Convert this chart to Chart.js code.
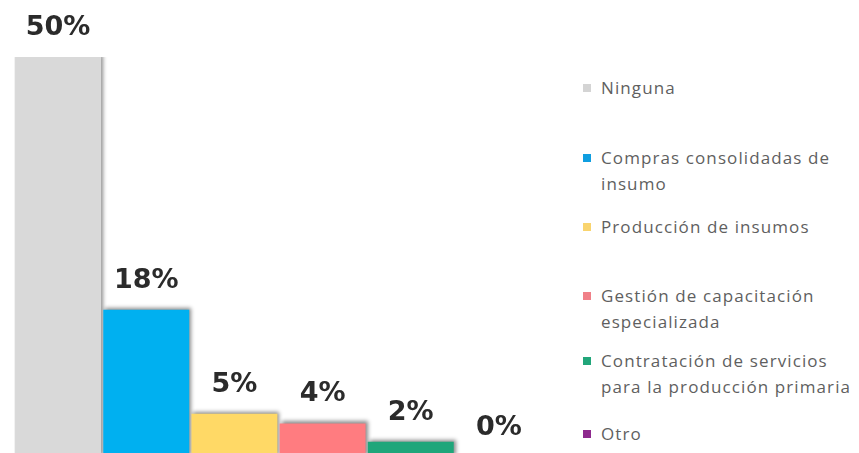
<!DOCTYPE html>
<html>
<head>
<meta charset="utf-8">
<script src="https://cdn.jsdelivr.net/npm/chart.js@4.4.1/dist/chart.umd.min.js"></script>
<style>
  html, body { margin: 0; padding: 0; background: #fff; }
  body { width: 859px; height: 453px; overflow: hidden; position: relative; }
  #chartBox { position: absolute; left: 0; top: 0; width: 560px; height: 457px; }
  #legend { position: absolute; left: 0; top: 0; }
  .item { position: absolute; left: 583px; font-family: "Open Sans", sans-serif; font-size: 17px;
          letter-spacing: 1.1px; line-height: 26px; color: #5f5f5f; white-space: nowrap; }
  .sw { position: absolute; left: 0; top: 9px; width: 8px; height: 8px; }
  .txt { margin-left: 18px; }
</style>
</head>
<body>
<div id="chartBox"><canvas id="barChart" width="560" height="457"></canvas></div>
<div id="legend"></div>
<script>
const categories = [
  ["Ninguna"],
  ["Compras consolidadas de", "insumo"],
  ["Producción de insumos"],
  ["Gestión de capacitación", "especializada"],
  ["Contratación de servicios", "para la producción primaria"],
  ["Otro"]
];
const values = [50, 18.4, 5.4, 4.2, 1.9, 0];
const colors = ["#d9d9d9", "#00b0f0", "#ffd966", "#ff7c80", "#1fa67a", "#8e2a8e"];
const legendColors = ["#d4d4d4", "#0f9ee0", "#f9d46e", "#f08088", "#21a67a", "#8e2a8e"];
const legendTops = [75, 145, 214, 283, 348, 421];

// sombra de las barras
const shadowPlugin = {
  id: "barShadow",
  beforeDatasetsDraw(chart) {
    const ctx = chart.ctx;
    ctx.save();
    ctx.shadowColor = "rgba(0,0,0,0.45)";
    ctx.shadowBlur = 4;
    ctx.shadowOffsetX = 2;
    ctx.shadowOffsetY = -2;
  },
  afterDatasetsDraw(chart) {
    chart.ctx.restore();
  }
};

// etiquetas de porcentaje encima de cada barra
const valueLabels = {
  id: "valueLabels",
  afterDraw(chart) {
    const ctx = chart.ctx;
    const meta = chart.getDatasetMeta(0);
    ctx.save();
    ctx.font = "bold 27px 'DejaVu Sans', sans-serif";
    ctx.fillStyle = "#2b2b2b";
    ctx.textAlign = "center";
    ctx.textBaseline = "middle";
    meta.data.forEach((bar, i) => {
      ctx.fillText(Math.round(values[i]) + "%", bar.x, bar.y - 29);
    });
    ctx.restore();
  }
};

new Chart(document.getElementById("barChart"), {
  type: "bar",
  data: {
    labels: categories,
    datasets: [{
      data: values,
      backgroundColor: colors,
      borderWidth: 0,
      categoryPercentage: 1,
      barPercentage: 0.975
    }]
  },
  options: {
    responsive: false,
    animation: false,
    layout: { padding: { left: 14, right: 17, top: 57, bottom: 0 } },
    scales: {
      x: { display: false },
      y: { display: false, min: 0, max: 50 }
    },
    plugins: {
      legend: { display: false },
      tooltip: { enabled: false }
    }
  },
  plugins: [shadowPlugin, valueLabels]
});

const legend = document.getElementById("legend");
categories.forEach((lines, i) => {
  const item = document.createElement("div");
  item.className = "item";
  item.style.top = legendTops[i] + "px";
  const sw = document.createElement("span");
  sw.className = "sw";
  sw.style.background = legendColors[i];
  const txt = document.createElement("div");
  txt.className = "txt";
  txt.innerHTML = lines.join("<br>");
  item.appendChild(sw);
  item.appendChild(txt);
  legend.appendChild(item);
});
</script>
</body>
</html>
